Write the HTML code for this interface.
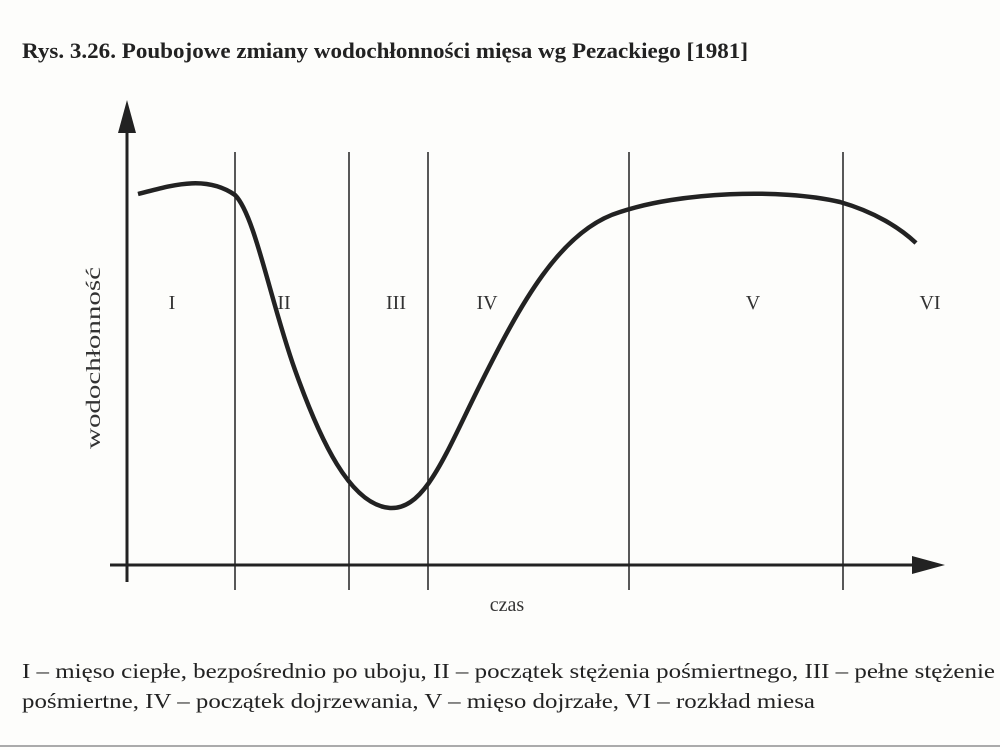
<!DOCTYPE html>
<html><head><meta charset="utf-8"><style>
html,body{margin:0;padding:0;background:#fdfdfb;}
svg{display:block;}
</style></head><body>
<svg width="1000" height="750" viewBox="0 0 1000 750" xmlns="http://www.w3.org/2000/svg">
<rect width="1000" height="750" fill="#fdfdfb"/>
<text x="22" y="58" font-family="Liberation Serif, serif" font-weight="bold" font-size="22" fill="#222" textLength="726" lengthAdjust="spacingAndGlyphs">Rys. 3.26. Poubojowe zmiany wodochłonności mięsa wg Pezackiego [1981]</text>
<g stroke="#222" fill="none">
<line x1="127" y1="125" x2="127" y2="582" stroke-width="3"/>
<polygon points="127,100 118,133 136,133" fill="#222" stroke="none"/>
<line x1="110" y1="565" x2="920" y2="565" stroke-width="3"/>
<polygon points="945,565 912,556 912,574" fill="#222" stroke="none"/>
<g stroke-width="1.5">
<line x1="235" y1="152" x2="235" y2="590"/>
<line x1="349" y1="152" x2="349" y2="590"/>
<line x1="428" y1="152" x2="428" y2="590"/>
<line x1="629" y1="152" x2="629" y2="590"/>
<line x1="843" y1="152" x2="843" y2="590"/>
</g>
<path d="M138,194 C170,186 205,174 235,195 C255,215 270,300 295,370 C320,440 350,505 390,508 C425,510 445,455 480,385 C520,305 560,230 620,212 C680,192 780,188 840,202 C875,212 900,228 916,243" stroke-width="4.5"/>
</g>
<g font-family="Liberation Serif, serif" font-size="20" fill="#333" text-anchor="middle">
<text x="172" y="309">I</text>
<text x="284" y="309">II</text>
<text x="396" y="309">III</text>
<text x="487" y="309">IV</text>
<text x="753" y="309">V</text>
<text x="930" y="309">VI</text>
<text x="507" y="611">czas</text>
<text transform="translate(100,358) rotate(-90)" textLength="182" lengthAdjust="spacingAndGlyphs">wodochłonność</text>
</g>
<g font-family="Liberation Serif, serif" font-size="21" fill="#222">
<text x="22" y="678" textLength="973" lengthAdjust="spacingAndGlyphs">I – mięso ciepłe, bezpośrednio po uboju, II – początek stężenia pośmiertnego, III – pełne stężenie</text>
<text x="22" y="708" textLength="793" lengthAdjust="spacingAndGlyphs">pośmiertne, IV – początek dojrzewania, V – mięso dojrzałe, VI – rozkład miesa</text>
</g>
<line x1="0" y1="746" x2="1000" y2="746" stroke="#aaa" stroke-width="2"/>
</svg>
</body></html>
